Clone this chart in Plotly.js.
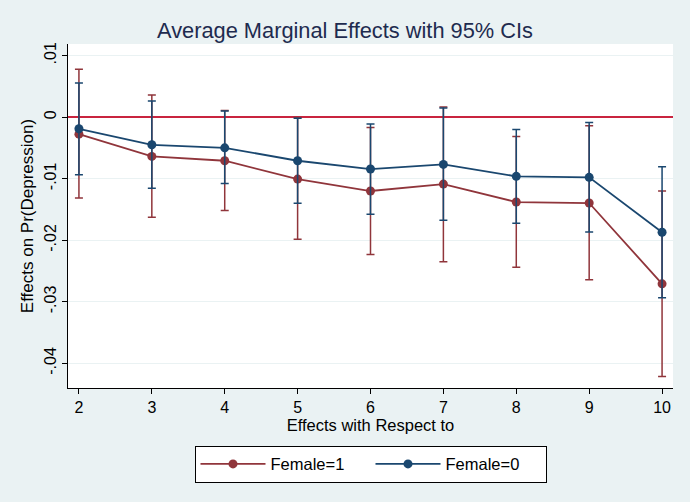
<!DOCTYPE html>
<html>
<head>
<meta charset="utf-8">
<script src="https://cdn.plot.ly/plotly-3.0.1.min.js"></script>
<style>html,body{margin:0;padding:0;background:#eaf2f3;}#chart{width:690px;height:502px;}</style>
</head>
<body>
<div id="chart"></div>
<script>
// Data
var categories = [2, 3, 4, 5, 6, 7, 8, 9, 10];

var female1Est   = [-0.00275, -0.00637, -0.00707, -0.01005, -0.01199, -0.01086, -0.01378, -0.01394, -0.02707];
var female1Upper = [ 0.00778,  0.00363,  0.00109, -0.00005, -0.00167,  0.00168, -0.00313, -0.00139, -0.01199];
var female1Lower = [-0.01313, -0.01626, -0.01517, -0.01982, -0.02230, -0.02350, -0.02436, -0.02642, -0.04214];

var female0Est   = [-0.00188, -0.00448, -0.00497, -0.00707, -0.00842, -0.00767, -0.00961, -0.00977, -0.01869];
var female0Upper = [ 0.00557,  0.00265,  0.00103, -0.00016, -0.00108,  0.00152, -0.00199, -0.00086, -0.00804];
var female0Lower = [-0.00934, -0.01156, -0.01075, -0.01399, -0.01577, -0.01674, -0.01723, -0.01864, -0.02934];

var yTickVals = [0.01, 0, -0.01, -0.02, -0.03, -0.04];
var yTickText = ['.01', '0', '-.01', '-.02', '-.03', '-.04'];

var seriesNames = ['Female=1', 'Female=0'];

function diff(a, b) { return a.map(function (v, i) { return v - b[i]; }); }

var red = '#90353b';
var blue = '#1a476f';
var font = 'Liberation Sans, Arial, Helvetica, sans-serif';

function makeTrace(name, est, up, lo, color) {
  return {
    x: categories,
    y: est,
    name: name,
    type: 'scatter',
    mode: 'lines+markers',
    line: {color: color, width: 1.8},
    marker: {color: color, size: 9, symbol: 'circle'},
    error_y: {
      type: 'data',
      symmetric: false,
      array: diff(up, est),
      arrayminus: diff(est, lo),
      color: color,
      thickness: 1.5,
      width: 4
    },
    cliponaxis: false
  };
}

var data = [
  makeTrace(seriesNames[0], female1Est, female1Upper, female1Lower, red),
  makeTrace(seriesNames[1], female0Est, female0Upper, female0Lower, blue)
];

var layout = {
  width: 690,
  height: 502,
  paper_bgcolor: '#eaf2f3',
  plot_bgcolor: '#ffffff',
  margin: {l: 68, r: 17, t: 44, b: 114},
  font: {family: font, color: '#000000'},
  title: {
    text: 'Average Marginal Effects with 95% CIs',
    font: {family: font, size: 21.8, color: '#1e2b4f'},
    x: 0.5, xref: 'container', xanchor: 'center',
    y: 1 - 30 / 502, yref: 'container', yanchor: 'middle'
  },
  xaxis: {
    range: [1.85, 10.15],
    tickvals: categories,
    ticktext: categories.map(String),
    showgrid: false,
    zeroline: false,
    showline: true,
    linecolor: '#000000',
    linewidth: 1,
    ticks: 'outside',
    ticklen: 5,
    tickcolor: '#000000',
    tickfont: {family: font, size: 16, color: '#000000'},
    title: {text: 'Effects with Respect to', font: {family: font, size: 16.5, color: '#000000'}, standoff: 4}
  },
  yaxis: {
    range: [-0.0440, 0.0119],
    tickvals: yTickVals,
    ticktext: yTickText,
    tickangle: -90,
    showgrid: true,
    gridcolor: '#eaf2f3',
    gridwidth: 1.2,
    zeroline: true,
    zerolinecolor: '#c9243f',
    zerolinewidth: 2,
    showline: true,
    linecolor: '#000000',
    linewidth: 1,
    ticks: 'outside',
    ticklen: 5,
    tickcolor: '#000000',
    tickfont: {family: font, size: 16, color: '#000000'},
    title: {text: 'Effects on Pr(Depression)', font: {family: font, size: 17, color: '#000000'}, standoff: 3}
  },
  showlegend: true,
  legend: {
    orientation: 'h',
    x: 0.5, xanchor: 'center',
    y: -0.1677, yanchor: 'top',
    bgcolor: '#ffffff',
    bordercolor: '#000000',
    borderwidth: 1,
    font: {family: font, size: 16.5, color: '#000000'},
    itemwidth: 65,
    entrywidth: 95,
    traceorder: 'normal'
  }
};

Plotly.newPlot('chart', data, layout, {displayModeBar: false, staticPlot: true});
</script>
</body>
</html>
